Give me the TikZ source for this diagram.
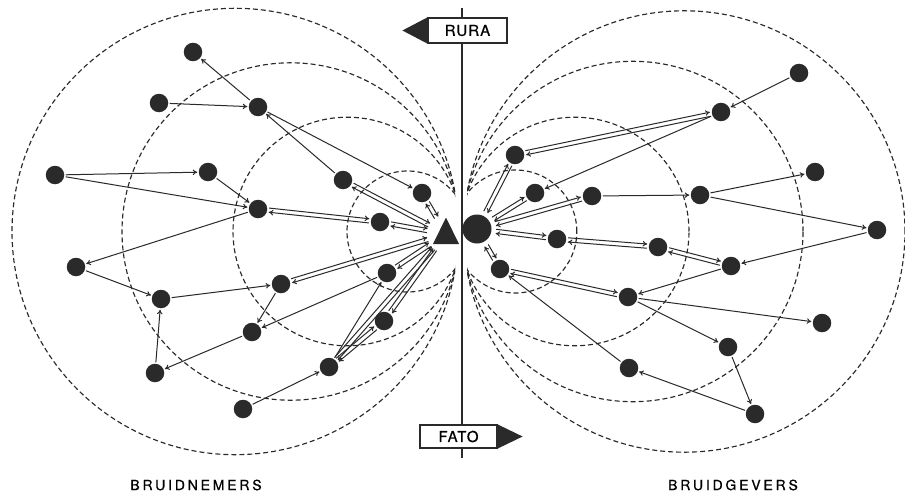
\documentclass[tikz,border=0pt]{standalone}
\usepackage{fontspec}
\setmainfont{TeX Gyre Heros}
\usetikzlibrary{calc,arrows.meta}
\definecolor{ink}{HTML}{2A2A2A}
\newcommand\prr[4]{%
 \draw[sarrow,shorten <=#3,shorten >=#4] ($(#1)!2.1pt!90:(#2)$) -- ($(#2)!2.1pt!-90:(#1)$);
 \draw[sarrow,shorten <=#4,shorten >=#3] ($(#2)!2.1pt!90:(#1)$) -- ($(#1)!2.1pt!-90:(#2)$);
}
\begin{document}
\begin{tikzpicture}[x=1pt,y=-1pt,
  dot/.style={circle,fill=ink,inner sep=0pt,minimum size=18.5pt,outer sep=1.5pt},
  sarrow/.style={draw=ink,line width=1pt,-{To[length=4.5pt,width=5.5pt]}},
  dsh/.style={draw=ink,line width=1.15pt,dash pattern=on 5pt off 3pt},
  sign/.style={draw=ink,fill=white,line width=1.2pt,inner sep=0pt,
    font=\fontsize{15}{17}\selectfont\addfontfeatures{LetterSpace=7,FakeBold=0.6}},
  lab/.style={inner sep=0pt,font=\fontsize{14}{16}\selectfont\addfontfeatures{LetterSpace=20,FakeBold=0.6}},
]
\fill[white] (0,0) rectangle (905,495);
\useasboundingbox (0,0) rectangle (905,495);

% dashed circles
\begin{scope}
\clip (0,0) rectangle (455,495);
\draw[dsh] (235.2,231.5) circle[radius=223.2pt];
\draw[dsh] (290.7,231.5) circle[radius=168.7pt];
\draw[dsh] (347.3,231.5) circle[radius=114.3pt];
\draw[dsh] (407.5,231.5) circle[radius=60.5pt];
\end{scope}
\begin{scope}
\clip (467,0) rectangle (905,495);
\draw[dsh] (684.3,231.5) circle[radius=220.7pt];
\draw[dsh] (632.8,231.5) circle[radius=170.2pt];
\draw[dsh] (574.7,231.5) circle[radius=114.3pt];
\draw[dsh] (515.3,231.5) circle[radius=61.5pt];
\end{scope}

% axis
\draw[ink,line width=1.2pt] (462,8) -- (462,458);

% signs
\node[sign,minimum width=79pt,minimum height=25pt] (rura) at (467.5,30.5) {RURA};
\fill[ink] (rura.north west) -- ($(rura.west)+(-25,0)$) -- (rura.south west) -- cycle;
\node[sign,minimum width=77pt,minimum height=23pt] (fato) at (458.5,436.5) {FATO};
\fill[ink] (fato.north east) -- ($(fato.east)+(25,0)$) -- (fato.south east) -- cycle;

% bottom labels
\node[lab] (bn) at (196,485) {BRUIDNEMERS};
\node[lab] (bg) at (733,485) {BRUIDGEVERS};

% centre
\fill[ink] (433,244) -- (446,217.5) -- (459,244) -- cycle;
\node[circle,inner sep=0pt,minimum size=34pt] (T) at (446,234) {};
\node[circle,fill=ink,inner sep=0pt,minimum size=29pt,outer sep=4pt] (C) at (477,229) {};

% left dots
\foreach \n/\x/\y in {L1/193/52,L2/159/103,L3/258/107,L4/55/175,L5/208/172,L6/258/209,
  L7/343/180,L8/422/193,L9/380/222,L10/76/267,L11/161/299,L12/281/284,L13/387/273,
  L14/252/332,L15/384/321,L16/155/373,L17/329/367,L18/243/409}
  \node[dot] (\n) at (\x,\y) {};
% right dots
\foreach \n/\x/\y in {R1/799/73,R2/721/112,R3/515/155,R4/815/172,R5/535/193,R6/592/196,
  R7/700/195,R8/877/230,R9/557/239,R10/658/247,R11/500/269,R12/731/266,R13/628/297,
  R14/822/323,R15/728/347,R16/629/368,R17/755/414}
  \node[dot] (\n) at (\x,\y) {};

% left single arrows
\foreach \a/\b in {L3/L1,L2/L3,L4/L5,L4/L6,L5/L6,L3/L8,L7/L3,L6/L10,L10/L11,L16/L11,
  L11/L12,L12/L14,L14/L16,L13/L14,L17/L13,L18/L17}
  \draw[sarrow] (\a) -- (\b);
% right single arrows
\foreach \a/\b in {R1/R2,R2/R5,R6/R7,R7/R4,R7/R8,R8/R12,R12/R13,R13/R14,R13/R15,
  R15/R17,R17/R16,R16/R11}
  \draw[sarrow] (\a) -- (\b);

% paired arrows
\prr{T}{L7}{19pt}{11pt}
\prr{T}{L8}{19pt}{11pt}
\prr{L9}{T}{11pt}{19pt}
\prr{L12}{T}{11pt}{19pt}
\prr{L13}{T}{11pt}{19pt}
\prr{L15}{T}{11pt}{19pt}
\prr{L17}{T}{11pt}{19pt}
\prr{L6}{L9}{11pt}{11pt}
\prr{L17}{L15}{11pt}{11pt}

\prr{C}{R3}{19pt}{11pt}
\prr{C}{R5}{19pt}{11pt}
\prr{C}{R6}{19pt}{11pt}
\prr{C}{R9}{19pt}{11pt}
\prr{C}{R11}{19pt}{11pt}
\prr{R3}{R2}{11pt}{11pt}
\prr{R9}{R10}{11pt}{11pt}
\prr{R10}{R12}{11pt}{11pt}
\prr{R11}{R13}{11pt}{11pt}
\end{tikzpicture}
\end{document}
